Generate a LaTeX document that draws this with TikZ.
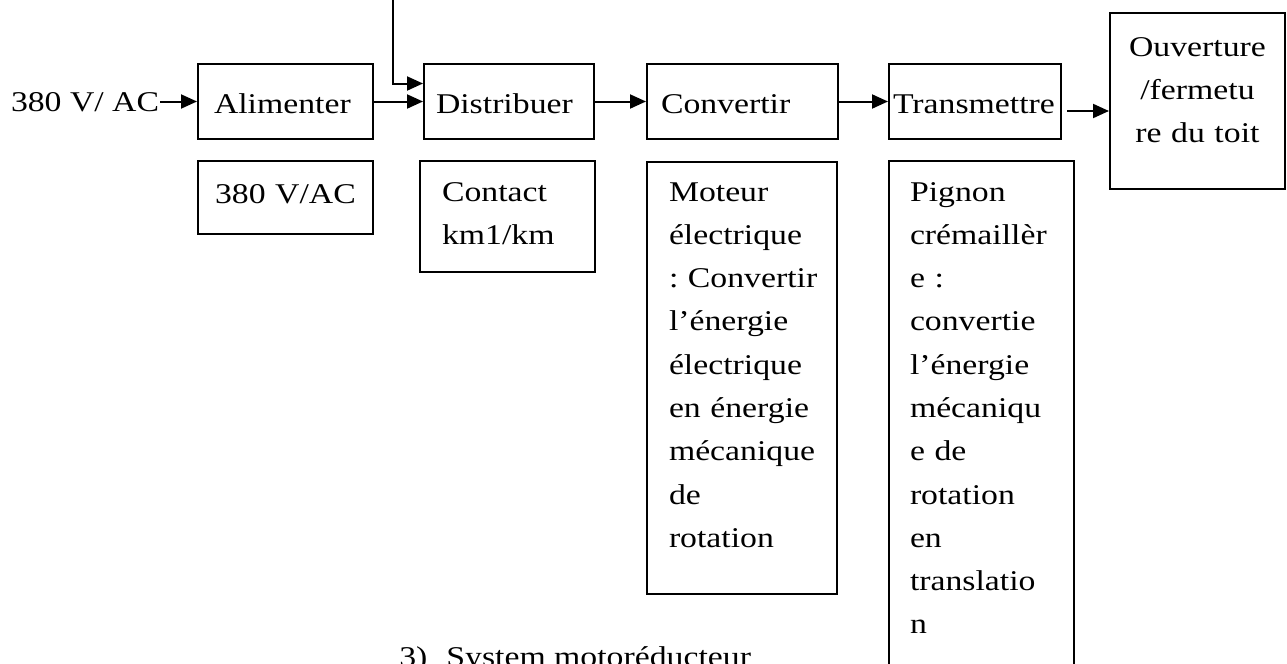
\documentclass[tikz,border=0pt]{standalone}
\usepackage{fontspec}
\setmainfont{Liberation Serif}[FakeStretch=1.18]
\usetikzlibrary{arrows.meta}
\hyphenpenalty=10000

\begin{document}
\begin{tikzpicture}[x=0.5pt,y=-0.5pt,line width=1pt,
    >={Triangle[length=8pt,width=7pt]},
    every node/.style={font=\fontsize{14.3}{21.65}\selectfont},
    bloc/.style={draw,rectangle,anchor=north west,inner ysep=0pt,align=left}]
    \useasboundingbox (0,0) rectangle (1287,664);

    % Chaine d'action %
    \node[anchor=base west,inner sep=0pt] (source) at (10,112) {380 V/ AC};
    \node[bloc,inner xsep=8pt,text width=71.5pt,text height=24.5pt,text depth=13pt] (alim) at (197,63) {Alimenter};
    \node[bloc,inner xsep=6pt,text width=73pt,text height=24.5pt,text depth=13pt] (dist) at (423,63) {Distribuer};
    \node[bloc,inner xsep=7pt,text width=81.5pt,text height=24.5pt,text depth=13pt] (conv) at (646,63) {Convertir};
    \node[bloc,inner xsep=2pt,text width=82pt,text height=24.5pt,text depth=13pt] (trans) at (888,63) {Transmettre};
    \node[bloc,align=center,inner xsep=4pt,text width=79.5pt,text height=21.5pt,text depth=66.5pt] (ouv) at (1109,12) {Ouverture\\ /fermetu\\ re~du~toit};

    % Solutions %
    \node[bloc,align=center,inner xsep=4pt,text width=79.5pt,text height=21pt,text depth=15.5pt] (reseau) at (197,160) {380~V/AC};
    \node[bloc,inner xsep=11pt,text width=65.5pt,text height=20pt,text depth=35.5pt] (contact) at (419,160) {Contact\\ km1/km};
    \node[bloc,inner xsep=11pt,text width=73pt,text height=19.5pt,text depth=196.5pt] (moteur) at (646,161) {Moteur\\ électrique\\ :~Convertir\\ l’énergie\\ électrique\\ en~énergie\\ mécanique\\ de\\ rotation};
    \node[bloc,inner xsep=10.5pt,text width=71.5pt,text height=20pt,text depth=240pt] (pignon) at (888,160) {Pignon\\ crémaillèr\\ e~:\\ convertie\\ l’énergie\\ mécaniqu\\ e~de\\ rotation\\ en\\ translatio\\ n};

    \node[anchor=base east,inner sep=0pt] (titre) at (752,666) {3)\hspace{9.5pt}System motoréducteur};

    % Fleches %
    \coordinate (ordre) at (393,0);
    \draw[->] (source.east |- alim.west) -- (alim.west);
    \draw[->] (alim.east) -- (dist.west);
    \draw[->] (ordre) |- ([yshift=9pt]dist.west);
    \draw[->] (dist.east) -- (conv.west);
    \draw[->] (conv.east) -- (trans.west);
    \draw[->] ([xshift=2.5pt,yshift=-4.75pt]trans.east) -- ([yshift=-4.75pt]trans.east -| ouv.west);
\end{tikzpicture}
\end{document}
